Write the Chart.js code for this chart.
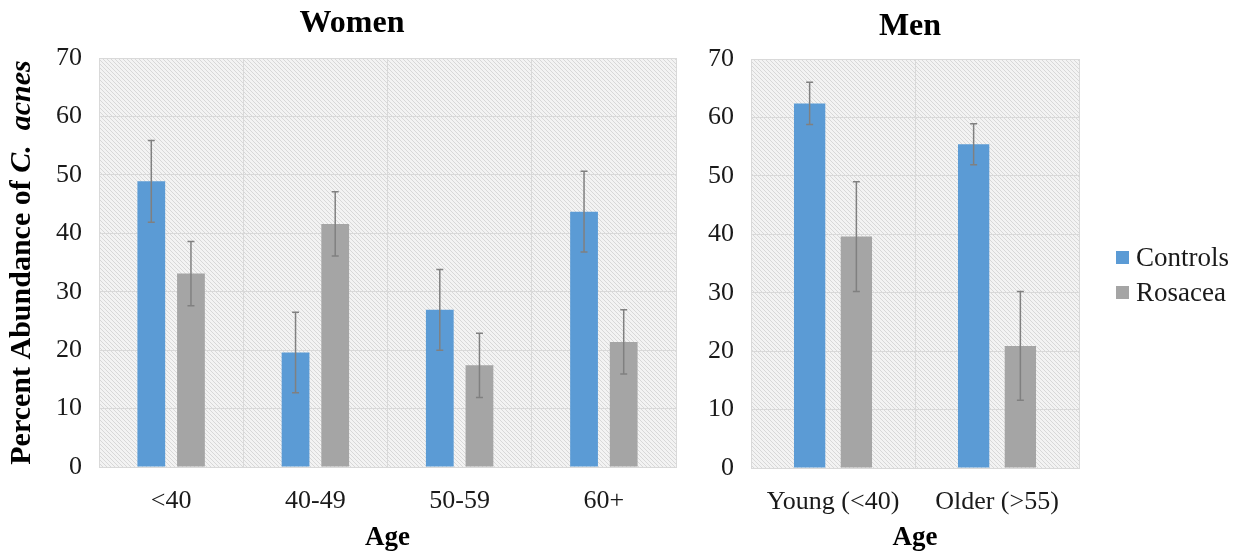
<!DOCTYPE html>
<html>
<head>
<meta charset="utf-8">
<script src="https://cdn.jsdelivr.net/npm/chart.js@4.4.1/dist/chart.umd.min.js"></script>
<style>
  body { margin: 0; background: #fff; width: 1254px; height: 559px; position: relative; overflow: hidden; }
  #women { position: absolute; left: 0; top: 0; }
  #men { position: absolute; left: 690px; top: 0; }
  #legend { position: absolute; left: 1116px; top: 240px; font-family: 'Liberation Serif', 'Times New Roman', serif; font-size: 27px; color: #1a1a1a; }
  .item { display: flex; align-items: center; height: 35px; }
  .swatch { width: 13px; height: 13px; margin-right: 7px; }
</style>
</head>
<body>
<canvas id="women" width="690" height="559"></canvas>
<canvas id="men" width="564" height="559"></canvas>
<div id="legend"></div>
<script>
// data
const womenAges = ['<40', '40-49', '50-59', '60+'];
const menAges = ['Young (<40)', 'Older (>55)'];
const seriesNames = ['Controls', 'Rosacea'];
const seriesColors = ['#5b9bd5', '#a5a5a5'];

const womenControls = [48.9, 19.6, 26.9, 43.7];
const womenControlsErr = [7.0, 6.9, 6.9, 6.9];
const womenRosacea = [33.1, 41.6, 17.4, 21.4];
const womenRosaceaErr = [5.5, 5.5, 5.5, 5.5];

const menControls = [62.4, 55.4];
const menControlsErr = [3.6, 3.5];
const menRosacea = [39.6, 20.9];
const menRosaceaErr = [9.4, 9.3];

const yMax = 70;
const yStep = 10;

const FONT = "'Liberation Serif', 'Times New Roman', serif";
const GRID = '#d9d9d9';

// diagonal hatch used by the plot area
function makeHatch() {
  const c = document.createElement('canvas');
  c.width = 4; c.height = 4;
  const g = c.getContext('2d');
  g.fillStyle = '#f3f3f3';
  g.fillRect(0, 0, 4, 4);
  g.strokeStyle = '#d8d8d8';
  g.lineWidth = 1;
  g.beginPath();
  g.moveTo(0, 0); g.lineTo(4, 4);
  g.moveTo(-1, 3); g.lineTo(1, 5);
  g.moveTo(3, -1); g.lineTo(5, 1);
  g.stroke();
  return g.createPattern(c, 'repeat');
}

const hatchBg = {
  id: 'hatchBg',
  beforeDraw(chart) {
    const a = chart.chartArea, ctx = chart.ctx;
    ctx.save();
    ctx.fillStyle = makeHatch();
    ctx.fillRect(a.left, a.top, a.right - a.left, a.bottom - a.top);
    ctx.restore();
  }
};

const errorBars = {
  id: 'errorBars',
  afterDatasetsDraw(chart) {
    const ctx = chart.ctx, y = chart.scales.y;
    ctx.save();
    ctx.strokeStyle = '#808080';
    ctx.lineWidth = 1.5;
    chart.data.datasets.forEach((ds, i) => {
      chart.getDatasetMeta(i).data.forEach((bar, j) => {
        const top = y.getPixelForValue(ds.data[j] + ds.errors[j]);
        const bot = y.getPixelForValue(ds.data[j] - ds.errors[j]);
        ctx.beginPath();
        ctx.moveTo(bar.x, top); ctx.lineTo(bar.x, bot);
        ctx.moveTo(bar.x - 3.5, top); ctx.lineTo(bar.x + 3.5, top);
        ctx.moveTo(bar.x - 3.5, bot); ctx.lineTo(bar.x + 3.5, bot);
        ctx.stroke();
      });
    });
    ctx.restore();
  }
};

// panel title, x-axis title and (optionally) the y-axis title with the italic species name
const panelText = {
  id: 'panelText',
  afterDraw(chart, args, opts) {
    const ctx = chart.ctx, a = chart.chartArea;
    ctx.save();
    ctx.fillStyle = '#000';
    ctx.textAlign = 'center';
    ctx.textBaseline = 'middle';
    ctx.font = 'bold 32px ' + FONT;
    ctx.fillText(opts.title, opts.titleX, opts.titleY);
    ctx.font = 'bold 27px ' + FONT;
    ctx.fillText('Age', (a.left + a.right) / 2, 538);
    if (opts.yTitle) {
      const p1 = 'Percent Abundance of ', p2 = 'C.  acnes';
      ctx.translate(22, (a.top + a.bottom) / 2);
      ctx.rotate(-Math.PI / 2);
      ctx.textAlign = 'left';
      ctx.font = 'bold 30px ' + FONT;
      const w1 = ctx.measureText(p1).width;
      ctx.font = 'italic bold 30px ' + FONT;
      const w2 = ctx.measureText(p2).width;
      const x0 = -(w1 + w2) / 2;
      ctx.font = 'bold 30px ' + FONT;
      ctx.fillText(p1, x0, 0);
      ctx.font = 'italic bold 30px ' + FONT;
      ctx.fillText(p2, x0 + w1, 0);
    }
    ctx.restore();
  }
};

function makeChart(id, labels, ctrl, ctrlErr, ros, rosErr, cfg) {
  return new Chart(document.getElementById(id), {
    type: 'bar',
    data: {
      labels: labels,
      datasets: [
        { label: seriesNames[0], data: ctrl, errors: ctrlErr, backgroundColor: seriesColors[0],
          categoryPercentage: cfg.catPct, barPercentage: cfg.barPct },
        { label: seriesNames[1], data: ros, errors: rosErr, backgroundColor: seriesColors[1],
          categoryPercentage: cfg.catPct, barPercentage: cfg.barPct }
      ]
    },
    options: {
      responsive: false,
      animation: false,
      layout: { padding: { top: cfg.top, right: cfg.right, left: 0, bottom: 0 } },
      plugins: {
        legend: { display: false },
        tooltip: { enabled: false },
        panelText: { title: cfg.title, titleX: cfg.titleX, titleY: cfg.titleY, yTitle: cfg.yTitle }
      },
      scales: {
        x: {
          grid: { color: GRID, drawTicks: false, offset: true },
          border: { color: GRID },
          ticks: { color: '#1a1a1a', font: { family: FONT, size: 26 }, padding: 19 },
          afterFit(s) { s.height = cfg.xHeight; }
        },
        y: {
          min: 0, max: yMax,
          grid: { color: GRID, drawTicks: false },
          border: { color: GRID },
          ticks: { stepSize: yStep, color: '#1a1a1a', font: { family: FONT, size: 26 }, padding: 17 },
          afterFit(s) { s.width = cfg.yWidth; }
        }
      }
    },
    plugins: [hatchBg, errorBars, panelText]
  });
}

makeChart('women', womenAges, womenControls, womenControlsErr, womenRosacea, womenRosaceaErr, {
  catPct: 0.55, barPct: 0.7, top: 58, right: 14, xHeight: 92, yWidth: 99,
  title: 'Women', titleX: 352, titleY: 24, yTitle: true
});

makeChart('men', menAges, menControls, menControlsErr, menRosacea, menRosaceaErr, {
  catPct: 0.57, barPct: 0.67, top: 59, right: 175, xHeight: 91, yWidth: 61,
  title: 'Men', titleX: 220, titleY: 27, yTitle: false
});

// legend
const legend = document.getElementById('legend');
seriesNames.forEach((name, i) => {
  const row = document.createElement('div');
  row.className = 'item';
  const sw = document.createElement('span');
  sw.className = 'swatch';
  sw.style.background = seriesColors[i];
  const tx = document.createElement('span');
  tx.textContent = name;
  row.appendChild(sw);
  row.appendChild(tx);
  legend.appendChild(row);
});
</script>
</body>
</html>
